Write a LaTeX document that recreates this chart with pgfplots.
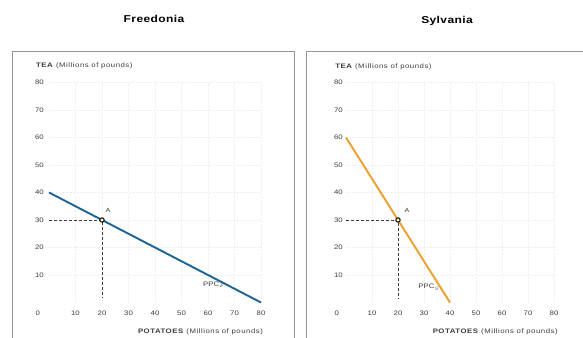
\documentclass[border=0pt]{standalone}
\usepackage{fontspec}
\setmainfont{Liberation Sans}
\newfontfamily\widefont[FakeStretch=1.2]{Liberation Sans}
\usepackage{pgfplots}
\pgfplotsset{compat=1.18}
\definecolor{ppcblue}{RGB}{28,100,148}
\definecolor{ppcorange}{RGB}{240,158,45}
\definecolor{framegray}{RGB}{150,150,150}
\definecolor{txt}{RGB}{60,60,60}
\newcommand{\lab}{\widefont\fontsize{6.5}{8}\selectfont\addfontfeatures{LetterSpace=8}\color{txt}}
\newcommand{\ttl}{\widefont\fontsize{10}{12}\selectfont\bfseries\addfontfeatures{LetterSpace=4}}
\pgfplotsset{ppc/.style={
  scale only axis, height=220pt, xmin=0, xmax=80, ymin=0, ymax=80,
  axis line style={draw=none}, tick style={draw=none},
  xtick={10,20,...,80}, ytick={10,20,...,80},
  grid=major, grid style={gray!12, densely dotted, line width=0.4pt},
  /pgf/number format/assume math mode=true,
  ticklabel style={font=\widefont\fontsize{6.5}{7}\selectfont, text=txt, inner sep=0pt},
  xticklabel style={anchor=north, yshift=-8pt},
  clip=false,
}}
\begin{document}
\begin{tikzpicture}[x=1pt,y=1pt]
\useasboundingbox (0,0) rectangle (583,337);
\draw[framegray, line width=0.8pt] (12,-5) -- (12,286) -- (294,286) -- (294,-5);
\draw[framegray, line width=0.8pt] (306,-5) -- (306,286) -- (590,286);
\node[font=\ttl] at (154,318) {Freedonia};
\node[font=\ttl] at (447,316) {Sylvania};
\begin{axis}[ppc, at={(49pt,34.5pt)}, anchor=south west, width=212pt,
  yticklabel style={anchor=east, xshift=-5pt}]
\addplot[txt, densely dashed, line width=0.5pt] coordinates {(0,30) (20,30) (20,1.5)};
\addplot[ppcblue, line width=1.9pt] coordinates {(0,40) (80,0)};
\addplot[only marks, mark=*, mark size=2.2pt, mark options={fill=yellow!25, draw=black, line width=1pt}] coordinates {(20,30)};
\node[font=\widefont\fontsize{6}{7}\selectfont, text=txt] at (axis cs:22.3,33.3) {A};
\node[font=\widefont\fontsize{6.5}{7}\selectfont, text=txt] at (axis cs:62.3,6.4) {PPC$_F$};
\node[font=\widefont\fontsize{6.5}{7}\selectfont, text=txt] at (axis cs:-4.2,-3.8) {0};
\node[anchor=west, inner sep=0pt, font=\lab] at (axis cs:-4.9,86) {\textbf{TEA} (Millions of pounds)};
\node[anchor=east, inner sep=0pt, font=\lab] at (axis cs:80.8,-10.7) {\textbf{POTATOES} (Millions of pounds)};
\end{axis}
\begin{axis}[ppc, at={(346pt,34.5pt)}, anchor=south west, width=208pt,
  yticklabel style={anchor=east, xshift=-3pt}]
\addplot[txt, densely dashed, line width=0.5pt] coordinates {(0,30) (20,30) (20,1.5)};
\addplot[ppcorange, line width=1.9pt] coordinates {(0,60) (40,0)};
\addplot[only marks, mark=*, mark size=2.2pt, mark options={fill=yellow!25, draw=black, line width=1pt}] coordinates {(20,30)};
\node[font=\widefont\fontsize{6}{7}\selectfont, text=txt] at (axis cs:23.5,33.6) {A};
\node[font=\widefont\fontsize{6.5}{7}\selectfont, text=txt] at (axis cs:31.9,5.6) {PPC$_S$};
\node[font=\widefont\fontsize{6.5}{7}\selectfont, text=txt] at (axis cs:-3.5,-3.8) {0};
\node[anchor=west, inner sep=0pt, font=\lab] at (axis cs:-4.2,85.6) {\textbf{TEA} (Millions of pounds)};
\node[anchor=east, inner sep=0pt, font=\lab] at (axis cs:81.5,-10.7) {\textbf{POTATOES} (Millions of pounds)};
\end{axis}
\end{tikzpicture}
\end{document}
